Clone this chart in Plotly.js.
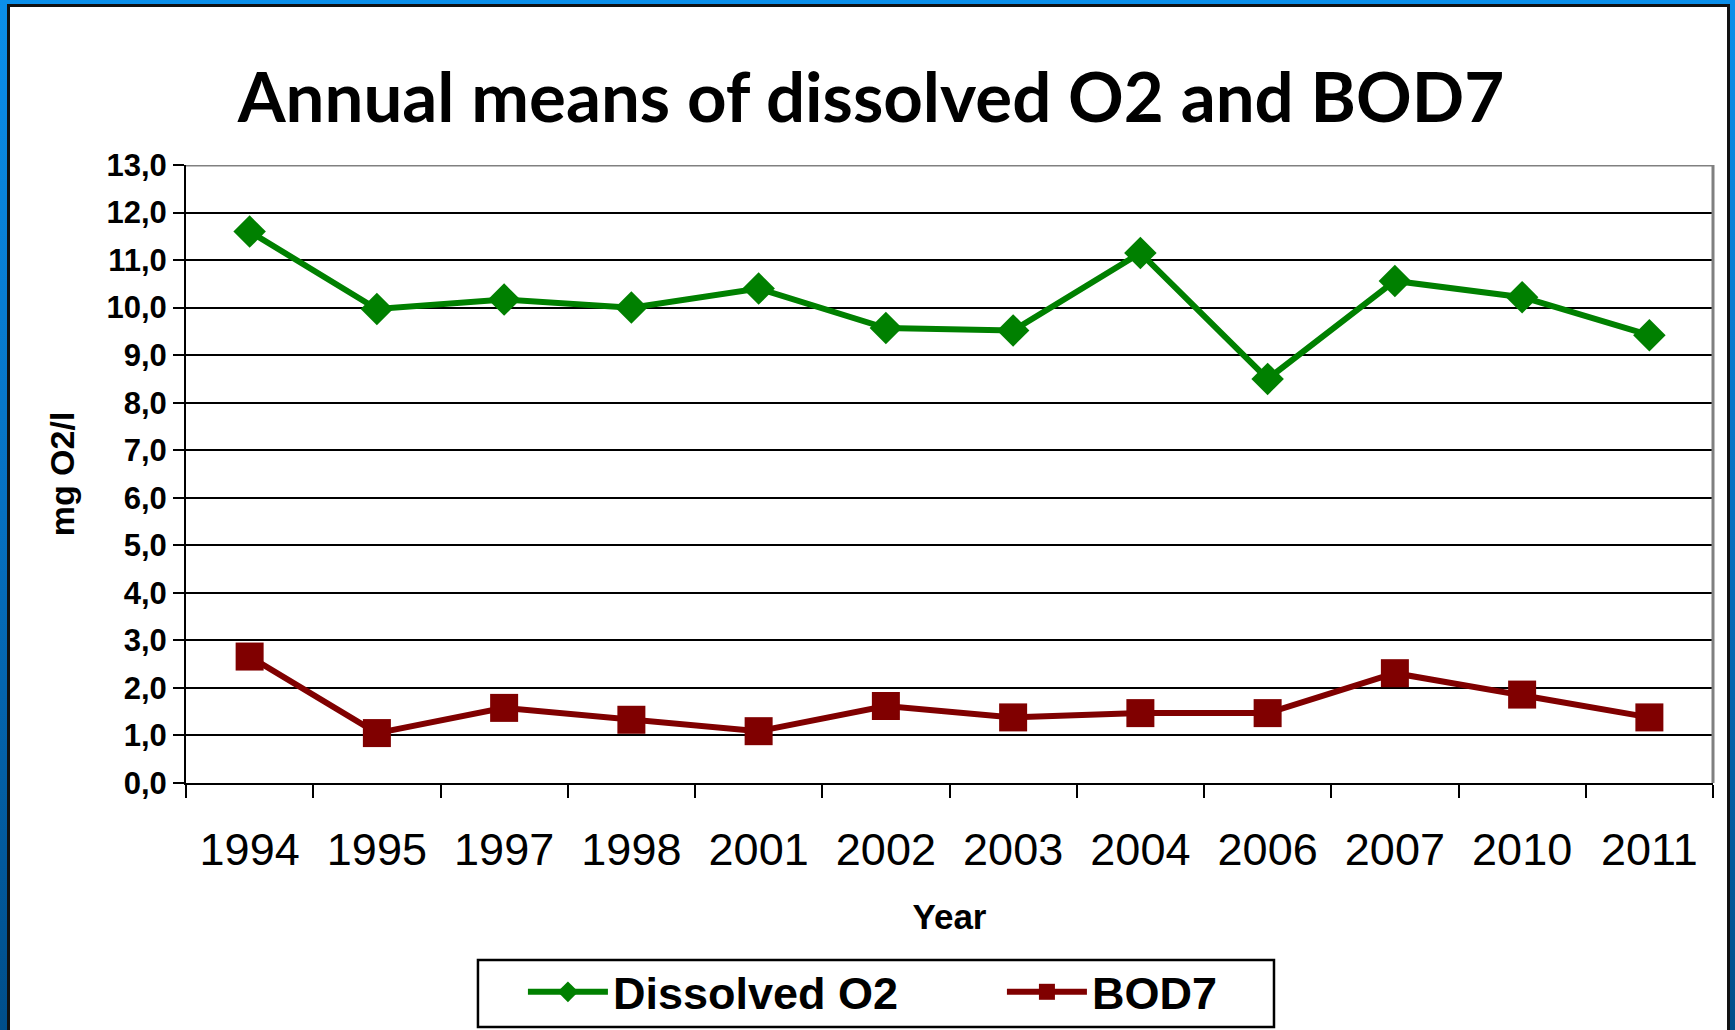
<!DOCTYPE html>
<html>
<head>
<meta charset="utf-8">
<script src="https://cdn.plot.ly/plotly-3.0.1.min.js"></script>
<style>
  html, body { margin: 0; padding: 0; width: 1735px; height: 1030px; overflow: hidden; }
  body { background: linear-gradient(to bottom, #0b8fea 0%, #0670c0 50%, #004e8a 100%); position: relative; }
  #frame { position: absolute; left: 7px; top: 4px; width: 1723px; height: 1040px; background: #ffffff; border: 3px solid #111111; box-sizing: border-box; }
  #chart { position: absolute; left: 0; top: 0; width: 1735px; height: 1030px; }
</style>
</head>
<body>
<div id="frame"></div>
<div id="chart"></div>
<script>
const years = ['1994','1995','1997','1998','2001','2002','2003','2004','2006','2007','2010','2011'];
const dissolvedO2 = [11.6, 9.97, 10.17, 10.0, 10.4, 9.57, 9.52, 11.15, 8.5, 10.56, 10.22, 9.42];
const bod7 = [2.66, 1.05, 1.58, 1.33, 1.09, 1.62, 1.38, 1.47, 1.47, 2.31, 1.86, 1.38];
const yTicks = [0,1,2,3,4,5,6,7,8,9,10,11,12,13];

const AR = 'Liberation Sans, Arial, sans-serif';

const traces = [
  {
    x: years, y: dissolvedO2, name: 'Dissolved O2', type: 'scatter', mode: 'lines+markers',
    line: { color: '#008000', width: 6 },
    marker: { symbol: 'diamond', size: 25, color: '#008000' }
  },
  {
    x: years, y: bod7, name: 'BOD7', type: 'scatter', mode: 'lines+markers',
    line: { color: '#800000', width: 6 },
    marker: { symbol: 'square', size: 28, color: '#800000' }
  }
];

const layout = {
  width: 1735, height: 1030,
  paper_bgcolor: 'rgba(0,0,0,0)',
  plot_bgcolor: '#ffffff',
  separators: ',.',
  margin: { l: 186, r: 22, t: 165, b: 247, autoexpand: false },
  title: {
    text: 'Annual means of dissolved O2 and BOD7',
    font: { family: 'Lato, Open Sans, sans-serif', size: 69, weight: 'bold', color: '#000000' },
    x: 0.502, xref: 'container', xanchor: 'center',
    y: 1 - 98 / 1030, yref: 'container', yanchor: 'middle'
  },
  xaxis: {
    type: 'category',
    range: [-0.5, years.length - 0.5],
    automargin: false,
    tickson: 'boundaries',
    ticks: 'outside', ticklen: 13, tickwidth: 2, tickcolor: '#000000',
    showline: true, linecolor: '#000000', linewidth: 2,
    showgrid: false, zeroline: false,
    tickfont: { family: AR, size: 45, color: '#000000' },
    ticklabelstandoff: 26,
    title: { text: 'Year', font: { family: AR, size: 35, weight: 'bold', color: '#000000' }, standoff: 30 }
  },
  yaxis: {
    range: [0, 13],
    automargin: false,
    tickvals: yTicks,
    tickformat: '.1f',
    ticks: 'outside', ticklen: 11, tickwidth: 2, tickcolor: '#000000',
    showline: true, linecolor: '#000000', linewidth: 2,
    showgrid: true, gridcolor: '#000000', gridwidth: 2,
    zeroline: false,
    tickfont: { family: AR, size: 31, weight: 'bold', color: '#000000' },
    title: { text: 'mg O2/l', font: { family: AR, size: 34, weight: 'bold', color: '#000000' }, standoff: 22 }
  },
  shapes: [
    { type: 'line', xref: 'paper', yref: 'y', x0: 0, x1: 1, y0: 13, y1: 13, line: { color: '#808080', width: 3 } },
    { type: 'line', xref: 'paper', yref: 'paper', x0: 1, x1: 1, y0: 0, y1: 1, line: { color: '#808080', width: 3 } },
    { type: 'rect', xref: 'paper', yref: 'paper', x0: 0.1912, x1: 0.7125, y0: -0.3948, y1: -0.2864,
      line: { color: '#000000', width: 2.5 }, fillcolor: 'rgba(0,0,0,0)', layer: 'above' }
  ],
  showlegend: true,
  legend: {
    orientation: 'h',
    x: 0.3014, xanchor: 'left', xref: 'container',
    y: 0.0718, yanchor: 'top', yref: 'container',
    bgcolor: 'rgba(0,0,0,0)', borderwidth: 0,
    font: { family: AR, size: 45, weight: 'bold', color: '#000000' },
    entrywidth: 384, entrywidthmode: 'pixels',
    itemwidth: 80
  }
};

Plotly.newPlot('chart', traces, layout, { displayModeBar: false, responsive: false });
</script>
</body>
</html>
